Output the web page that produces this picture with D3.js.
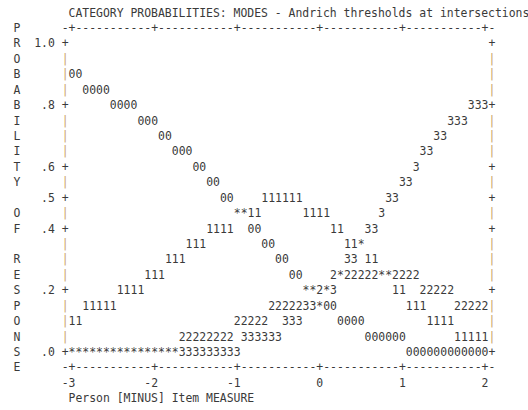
<!DOCTYPE html>
<html lang="en">
<head>
    <meta charset="UTF-8">
    <title>Category Probabilities</title>
    <script src="https://d3js.org/d3.v7.min.js"></script>
    <style>
        body { margin: 0; background: #fff; }
        text {
            font-family: "DejaVu Sans Mono", "Liberation Mono", monospace;
            font-size: 11.43px;
            fill: #3a3a3a;
        }
        text.bar { fill: #c9a36a; }
    </style>
</head>
<body>
    <div id="chart"></div>

    <script>
        // Categories and their probability at each plot column (one column = 1/12 logit, -3 .. +2)
        var categories = ["0", "1", "2", "3"];

        var prob0 = [.90, .90, .85, .85, .85, .85, .80, .80, .80, .80, .75, .75, .75, .70, .70,
                     .65, .65, .65, .60, .60, .55, .55, .50, .50, .45, .45, .40, .40, .35, .35,
                     .30, .30, .25, .25, .20, .20, .15, .15, .15, .10, .10, .10, .10, .05, .05,
                     .05, .05, .05, .05, .00, .00, .00, .00, .00, .00, .00, .00, .00, .00, .00, .00];
        var prob1 = [.10, .10, .15, .15, .15, .15, .15, .20, .20, .20, .20, .25, .25, .25, .30,
                     .30, .30, .35, .35, .35, .40, .40, .40, .40, .45, .45, .45, .45, .50, .50,
                     .50, .50, .50, .50, .45, .45, .45, .45, .40, .40, .35, .35, .35, .30, .30,
                     .25, .25, .20, .20, .15, .15, .15, .10, .10, .10, .10, .05, .05, .05, .05, .05];
        var prob2 = [.00, .00, .00, .00, .00, .00, .00, .00, .00, .00, .00, .00, .00, .00, .00,
                     .00, .05, .05, .05, .05, .05, .05, .05, .05, .10, .10, .10, .10, .10, .15,
                     .15, .15, .15, .15, .20, .20, .20, .20, .25, .25, .25, .25, .25, .25, .25,
                     .25, .25, .25, .25, .25, .25, .20, .20, .20, .20, .20, .15, .15, .15, .15, .15];
        var prob3 = [.00, .00, .00, .00, .00, .00, .00, .00, .00, .00, .00, .00, .00, .00, .00,
                     .00, .00, .00, .00, .00, .00, .00, .00, .00, .00, .05, .05, .05, .05, .05,
                     .05, .10, .10, .10, .15, .15, .15, .20, .20, .25, .30, .30, .35, .40, .40,
                     .45, .50, .50, .55, .55, .60, .65, .65, .70, .70, .75, .75, .75, .80, .80, .80];

        var yTicks = [1.0, .8, .6, .5, .4, .2, .0];
        var yTickLabels = ["1.0", ".8", ".6", ".5", ".4", ".2", ".0"];
        var xTicks = [-3, -2, -1, 0, 1, 2];
        var xTickLabels = ["-3", "-2", "-1", "0", "1", "2"];

        var title = "CATEGORY PROBABILITIES: MODES - Andrich thresholds at intersections";
        var yTitle = "PROBABILITY OF RESPONSE";
        var xTitle = "Person [MINUS] Item MEASURE";

        var width = 528, height = 410;
        var step = 1 / 12;          // logits per character column
        var rowStep = 0.05;         // probability per text row

        var x = d3.scaleLinear().domain([-3, 2]).range([72, 485]);
        var y = d3.scaleLinear().domain([0, 1]).range([352, 43.4]);
        var charW = x(step) - x(0);

        var columns = d3.range(prob0.length).map(function(i) { return -3 + i * step; });
        var series = [prob0, prob1, prob2, prob3];

        var svg = d3.select("#chart")
                    .append("svg")
                    .attr("width", width)
                    .attr("height", height);

        function put(ch, xc, yc, cls) {
            svg.append("text")
               .attr("class", cls || null)
               .attr("x", xc)
               .attr("y", yc)
               .attr("dy", "0.35em")
               .attr("text-anchor", "middle")
               .text(ch);
        }

        // Title
        svg.append("text")
           .attr("x", x(-3) - charW / 2)
           .attr("y", y(1 + 2 * rowStep))
           .attr("dy", "0.35em")
           .text(title);

        // Vertical axis title, one letter per row
        yTitle.split("").forEach(function(ch, i) {
            if (ch !== " ") put(ch, x(-3) - 8 * charW, y(1 + rowStep - i * rowStep));
        });

        // Top and bottom axis lines made of dashes and plus signs
        var axisCols = d3.range(-1, prob0.length + 1).map(function(i) { return -3 + i * step; });
        [1 + rowStep, -rowStep].forEach(function(p) {
            axisCols.forEach(function(m) {
                var isTick = xTicks.some(function(t) { return Math.abs(t - m) < 1e-6; });
                put(isTick ? "+" : "-", x(m), y(p));
            });
        });

        // Side axes
        var leftX = x(-3 - step), rightX = x(2 + step);
        d3.range(21).forEach(function(r) {
            var p = r * rowStep;
            var isTick = yTicks.some(function(t) { return Math.abs(t - p) < 1e-6; });
            put(isTick ? "+" : "|", leftX, y(p), isTick ? null : "bar");
            put(isTick ? "+" : "|", rightX, y(p), isTick ? null : "bar");
        });

        // Y tick labels
        svg.selectAll("text.ytick")
           .data(yTicks)
           .enter()
           .append("text")
           .attr("class", "ytick")
           .attr("x", leftX - 1.5 * charW)
           .attr("y", function(d) { return y(d); })
           .attr("dy", "0.35em")
           .attr("text-anchor", "end")
           .text(function(d, i) { return yTickLabels[i]; });

        // X tick labels
        svg.selectAll("text.xtick")
           .data(xTicks)
           .enter()
           .append("text")
           .attr("class", "xtick")
           .attr("x", function(d) { return x(d) + charW / 2; })
           .attr("y", y(-2 * rowStep))
           .attr("dy", "0.35em")
           .attr("text-anchor", "end")
           .text(function(d, i) { return xTickLabels[i]; });

        svg.append("text")
           .attr("x", x(-3) - charW / 2)
           .attr("y", y(-3 * rowStep))
           .attr("dy", "0.35em")
           .text(xTitle);

        // Plot characters: category digit, or * where categories share a cell
        columns.forEach(function(m, i) {
            var cells = d3.group(categories, function(c, k) { return Math.round(series[k][i] / rowStep); });
            cells.forEach(function(cats, row) {
                put(cats.length > 1 ? "*" : cats[0], x(m), y(row * rowStep));
            });
        });
    </script>
</body>
</html>
